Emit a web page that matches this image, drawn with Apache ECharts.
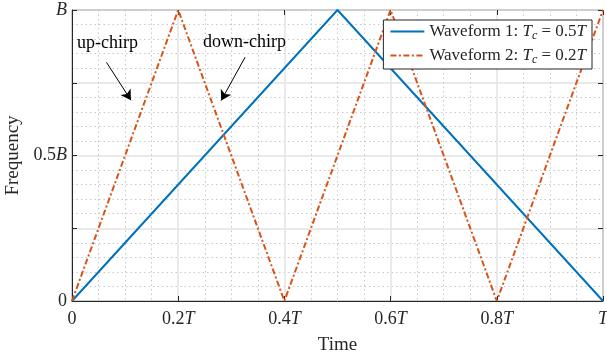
<!DOCTYPE html>
<html><head><meta charset="utf-8">
<script src="https://cdn.jsdelivr.net/npm/echarts@6/dist/echarts.min.js"></script>
<style>html,body{margin:0;padding:0;background:#fff}#c{width:607px;height:360px}</style>
</head><body><div id="c"></div>
<script>
// Time in units of T, frequency in units of B
const wave1Time = [0, 0.5, 1];
const wave1Freq = [0, 1, 0];
const wave2Time = [0, 0.2, 0.4, 0.6, 0.8, 1];
const wave2Freq = [0, 1, 0, 1, 0, 1];
const xTickValues = [0, 0.2, 0.4, 0.6, 0.8, 1];
const xTickLabels = ['0', '0.2', '0.4', '0.6', '0.8', ''];
const seriesNames = ['Waveform 1', 'Waveform 2'];
const tcValues = ['0.5', '0.2'];
const annotations = [
  {text: 'up-chirp', x: 0.067, y: 0.885, from: [0.065, 0.82], to: [0.111, 0.69]},
  {text: 'down-chirp', x: 0.325, y: 0.89, from: [0.326, 0.838], to: [0.281, 0.689]}
];

const serif = 'Liberation Serif';
const blue = '#0072BD', orange = '#D95319';
const chart = echarts.init(document.getElementById('c'));
function mkRich(fs) {
  return {
    n: {fontFamily: serif, fontSize: fs, color: '#262626'},
    i: {fontFamily: serif, fontSize: fs, fontStyle: 'italic', color: '#262626'},
    s: {fontFamily: serif, fontSize: Math.round(fs * 0.7), fontStyle: 'italic', color: '#262626', verticalAlign: 'bottom', padding: [9, 0, 0, 0]}
  };
}
function zip(a, b) { return a.map((v, k) => [v, b[k]]); }
function tick() { return {show: true, inside: true, length: 5, lineStyle: {color: '#262626', width: 1}}; }

chart.setOption({
  animation: false,
  grid: {left: 72, right: 4, top: 10, bottom: 59, containLabel: false, outerBoundsMode: 'none',
    show: true, borderColor: '#262626', borderWidth: 1, backgroundColor: 'transparent'},
  legend: {
    orient: 'vertical', right: 15, top: 20, itemWidth: 34, itemHeight: 12, itemGap: 5,
    backgroundColor: '#fff', borderColor: '#262626', borderWidth: 1, borderRadius: 0,
    padding: [3, 6, 3, 6],
    itemStyle: {opacity: 0},
    data: seriesNames,
    formatter: function (name) {
      const k = seriesNames.indexOf(name);
      return '{n|' + name + ': }{i|T}{s|c}{n| = ' + tcValues[k] + '}{i|T}';
    },
    textStyle: {rich: mkRich(17)}
  },
  xAxis: [{
    type: 'value', min: 0, max: 1, interval: 0.2, position: 'bottom',
    name: 'Time', nameLocation: 'middle', nameGap: 35,
    nameTextStyle: {fontFamily: serif, fontSize: 19, color: '#262626'},
    axisLine: {onZero: false, lineStyle: {color: '#262626'}},
    axisTick: tick(),
    axisLabel: {margin: 9, formatter: function (v) {
      const k = xTickValues.findIndex(t => Math.abs(t - v) < 1e-6);
      if (k < 0) return '';
      return xTickLabels[k] === '0' ? '{n|0}' : '{n|' + xTickLabels[k] + '}{i|T}';
    }, rich: mkRich(18)},
    splitLine: {show: true, lineStyle: {color: '#e3e3e3', width: 1.5}},
    minorTick: {show: false, splitNumber: 4},
    minorSplitLine: {show: true, lineStyle: {color: '#c8c8c8', type: [1.5, 3], width: 1}}
  }, {
    type: 'value', min: 0, max: 1, interval: 0.2, position: 'top',
    axisLine: {show: false, onZero: false}, axisLabel: {show: false}, splitLine: {show: false},
    axisTick: tick()
  }],
  yAxis: [{
    type: 'value', min: 0, max: 1, interval: 0.25, position: 'left',
    name: 'Frequency', nameLocation: 'middle', nameGap: 40, nameRotate: 90,
    nameTextStyle: {fontFamily: serif, fontSize: 19, color: '#262626'},
    axisLine: {show: true, onZero: false, lineStyle: {color: '#262626'}},
    axisTick: tick(),
    axisLabel: {margin: 5, formatter: function (v) {
      if (Math.abs(v) < 1e-6) return '{n|0}';
      if (Math.abs(v - 0.5) < 1e-6) return '{n|0.5}{i|B}';
      if (Math.abs(v - 1) < 1e-6) return '{i|B}';
      return '';
    }, rich: mkRich(18)},
    splitLine: {show: true, lineStyle: {color: '#e3e3e3', width: 1.5}},
    minorTick: {show: false, splitNumber: 5},
    minorSplitLine: {show: true, lineStyle: {color: '#c8c8c8', type: [1.5, 3], width: 1}}
  }, {
    type: 'value', min: 0, max: 1, interval: 0.25, position: 'right',
    axisLine: {show: false, onZero: false}, axisLabel: {show: false}, splitLine: {show: false},
    axisTick: tick()
  }],
  series: [{
    name: seriesNames[0], type: 'line', data: zip(wave1Time, wave1Freq), symbol: 'none',
    color: blue, lineStyle: {color: blue, width: 2}, z: 3
  }, {
    name: seriesNames[1], type: 'line', data: zip(wave2Time, wave2Freq), symbol: 'none',
    color: orange, lineStyle: {color: orange, width: 2, type: [6, 2.5, 2, 2.5]}, z: 3,
    markLine: {
      silent: true, symbol: ['none', 'arrow'], symbolSize: [9, 10],
      lineStyle: {color: '#000', width: 1, type: 'solid'}, label: {show: false},
      data: annotations.map(a => [{coord: a.from}, {coord: a.to}])
    },
    markPoint: {
      silent: true, symbol: 'circle', symbolSize: 0,
      label: {show: true, position: 'inside', fontFamily: serif, fontSize: 18, color: '#000',
        formatter: p => p.name},
      data: annotations.map(a => ({name: a.text, coord: [a.x, a.y]}))
    }
  }]
});
</script></body></html>
